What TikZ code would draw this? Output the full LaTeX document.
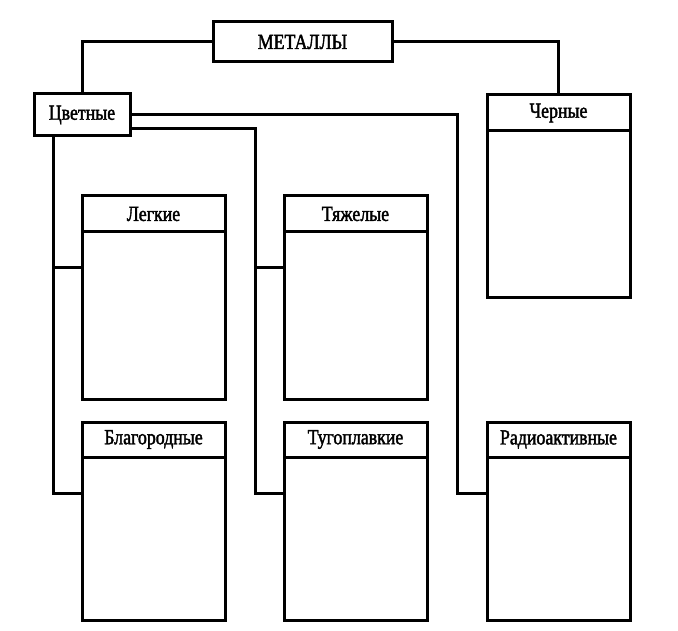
\documentclass[tikz,border=0pt]{standalone}
\usepackage{fontspec}
\setmainfont{Liberation Serif}[FakeStretch=0.83,FakeBold=1.8]
\begin{document}
\begin{tikzpicture}[x=1pt,y=-1pt,
  every path/.style={line width=3pt},
  frame/.style={draw, line width=3pt, fill=white, inner sep=0pt, outer sep=0pt, anchor=north west},
  hdr/.style={frame, font=\fontsize{21.5}{21.5}\selectfont},
  conn/.style={draw, line width=3pt, line cap=rect}]
\fill[white] (0,0) rectangle (678,631);
\useasboundingbox (0,0) rectangle (678,631);
% top boxes
\node[hdr, minimum width=179pt, minimum height=40pt] (met) at (213,22) {МЕТАЛЛЫ};
\node[hdr, minimum width=96pt, minimum height=42pt] (cvet) at (34,94) {Цветные};
% Черные
\node[frame, minimum width=143pt, minimum height=203pt] (cher) at (487,95) {};
\node[hdr, minimum width=143pt, minimum height=36pt] (cherh) at (487,95) {Черные};
% second row
\node[frame, minimum width=143pt, minimum height=203pt] (legk) at (82,196) {};
\node[hdr, minimum width=143pt, minimum height=36pt] (legkh) at (82,196) {Легкие};
\node[frame, minimum width=143pt, minimum height=203pt] (tyazh) at (284,196) {};
\node[hdr, minimum width=143pt, minimum height=36pt] (tyazhh) at (284,196) {Тяжелые};
% third row
\node[frame, minimum width=143pt, minimum height=198pt] (blag) at (82,422) {};
\node[hdr, minimum width=143pt, minimum height=35pt] (blagh) at (82,422) {Благородные};
\node[frame, minimum width=143pt, minimum height=198pt] (tugo) at (284,422) {};
\node[hdr, minimum width=143pt, minimum height=35pt] (tugoh) at (284,422) {Тугоплавкие};
\node[frame, minimum width=143pt, minimum height=198pt] (radio) at (487,422) {};
\node[hdr, minimum width=143pt, minimum height=35pt] (radioh) at (487,422) {Радиоактивные};
% connectors
\draw[conn] (met.west) -| (cvet.north);
\draw[conn] (met.east) -| (cher.north);
\draw[conn] (cvet.east) -| ([xshift=-30pt,yshift=-71pt]radio.north west) -- ([yshift=-71pt]radio.north west);
\draw[conn] ([yshift=-14pt]cvet.east) -| ([xshift=-29pt,yshift=-71pt]tugo.north west) -- ([yshift=-71pt]tugo.north west);
\draw[conn] ([xshift=-29pt,yshift=-72pt]tyazh.north west) -- ([yshift=-72pt]tyazh.north west);
\draw[conn] ([xshift=-29pt]cvet.south) |- ([yshift=-71pt]blag.north west);
\draw[conn] ([xshift=-29pt,yshift=-72pt]legk.north west) -- ([yshift=-72pt]legk.north west);
\end{tikzpicture}
\end{document}
